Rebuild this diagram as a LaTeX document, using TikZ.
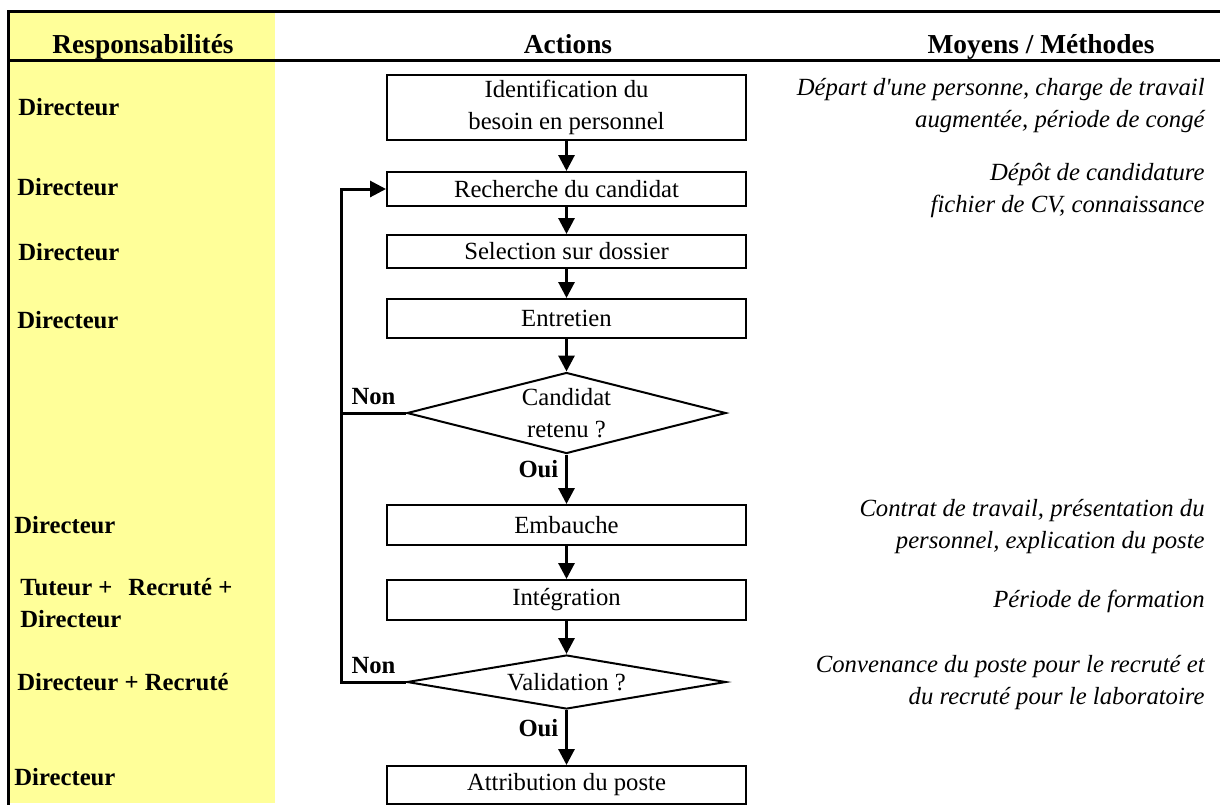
\documentclass[tikz,border=0pt]{standalone}
\usepackage{fontspec}
\setmainfont{Liberation Serif}
\usetikzlibrary{shapes.geometric,arrows.meta}

\definecolor{respyellow}{RGB}{255,255,153}
\newcommand{\bodyfont}{\fontsize{12.35}{16}\selectfont}
\newcommand{\headfont}{\fontsize{13.7}{16}\selectfont}

\tikzset{
  box/.style={draw, line width=1pt, minimum width=179.5pt, inner sep=0pt, align=center, font=\bodyfont},
  choice/.style={draw, diamond, aspect=4, line width=1pt, minimum width=159.5pt, inner sep=0pt, align=center, font=\bodyfont},
  flow/.style={line width=1.5pt, -{Triangle[length=8pt,width=8pt]}},
  loopline/.style={line width=1.5pt},
  frame/.style={line width=1.5pt},
  head/.style={anchor=base, inner sep=0pt, font=\headfont\bfseries},
  who/.style={anchor=base west, inner sep=0pt, align=left, font=\bodyfont\bfseries},
  how/.style={anchor=base east, inner sep=0pt, align=right, font=\bodyfont\itshape},
  answer/.style={font=\bodyfont\bfseries}
}

\begin{document}
\begin{tikzpicture}[x=0.5pt, y=-0.5pt]
  \useasboundingbox (0,0) rectangle (1220,805);

  % columns
  \fill[respyellow] (8,11) rectangle (275,803);
  \draw[frame] (1220,11) -- (8,11) -- (8,805);
  \draw[frame] (8,60) -- (1220,60);
  \node[head] (hresp) at (143,53) {Responsabilités};
  \node[head] (hact) at (568,53) {Actions};
  \node[head] (hmoy) at (1041,53) {Moyens / Méthodes};

  % actions
  \node[box, minimum height=32.5pt] (ident) at (566.5,107.5) {Identification du\\besoin en personnel};
  \node[box, minimum height=17pt] (recherche) at (566.5,189) {Recherche du candidat};
  \node[box, minimum height=16.5pt] (selection) at (566.5,251.5) {Selection sur dossier};
  \node[box, minimum height=19.5pt] (entretien) at (566.5,318.5) {Entretien};
  \node[choice, minimum height=40.5pt] (retenu) at (566.5,413) {Candidat\\retenu ?};
  \node[box, minimum height=20pt] (embauche) at (566.5,525) {Embauche};
  \node[box, minimum height=20pt] (integration) at (566.5,600) {Intégration};
  \node[choice, minimum height=27pt] (validation) at (566.5,682) {Validation ?};
  \node[box, minimum height=19pt] (attribution) at (566.5,785) {Attribution du poste};

  \draw[flow] (ident) -- (recherche);
  \draw[flow] (recherche) -- (selection);
  \draw[flow] (selection) -- (entretien);
  \draw[flow] (entretien) -- (retenu);
  \draw[flow] (retenu) -- node[answer, pos=0.3, left] {Oui} (embauche);
  \draw[flow] (embauche) -- (integration);
  \draw[flow] (integration) -- (validation);
  \draw[flow] (validation) -- node[answer, pos=0.32, left] {Oui} (attribution);

  % back to recherche
  \coordinate (retour) at (341,189);
  \draw[loopline] (retenu.west) -- node[answer, above] {Non} (retenu.west -| retour);
  \draw[flow] (validation.west) -- node[answer, above] {Non} (validation.west -| retour) |- (recherche.west);

  % responsabilites
  \node[who] (r1) at (18,115) {Directeur};
  \node[who] (r2) at (17,195) {Directeur};
  \node[who] (r3) at (18,260) {Directeur};
  \node[who] (r4) at (17,328) {Directeur};
  \node[who] (r5) at (14,533) {Directeur};
  \node[who] (r6) at (20,627) {Tuteur +\hspace{8pt}Recruté +\\Directeur};
  \node[who] (r7) at (17,690) {Directeur + Recruté};
  \node[who] (r8) at (14,785) {Directeur};

  % moyens / methodes
  \node[how] (m1) at (1205,127) {Départ d\textquotesingle une personne, charge de travail\\augmentée, période de congé};
  \node[how] (m2) at (1205,212) {Dépôt de candidature\\fichier de CV, connaissance};
  \node[how] (m3) at (1205,548) {Contrat de travail, présentation du\\personnel, explication du poste};
  \node[how] (m4) at (1205,607) {Période de formation};
  \node[how] (m5) at (1205,704) {Convenance du poste pour le recruté et\\du recruté pour le laboratoire};
\end{tikzpicture}
\end{document}
